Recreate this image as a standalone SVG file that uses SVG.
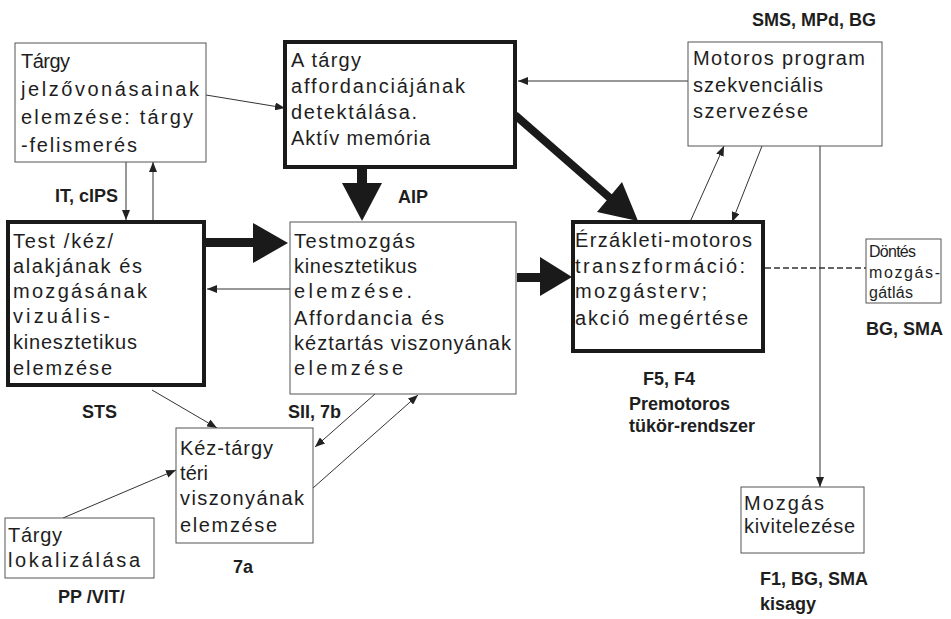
<svg xmlns="http://www.w3.org/2000/svg" width="951" height="619" viewBox="0 0 951 619">
<style>
.thin{fill:#fff;stroke:#555;stroke-width:1}
.thick{fill:#fff;stroke:#1a1a1a;stroke-width:4}
.t{font-family:"Liberation Sans",Arial,sans-serif;font-size:20px;fill:#1e1e1e}
.s{font-family:"Liberation Sans",Arial,sans-serif;font-size:16px;fill:#1e1e1e}
.b{font-family:"Liberation Sans",Arial,sans-serif;font-size:18px;font-weight:bold;fill:#1e1e1e}
.c{stroke:#333;stroke-width:1;fill:none;marker-end:url(#ah)}
.d{stroke:#333;stroke-width:1.3;fill:none;stroke-dasharray:6 3}
.big{fill:#1a1a1a}
.sh{stroke:#1a1a1a;fill:none}
</style>
<defs>
<marker id="ah" markerUnits="userSpaceOnUse" markerWidth="10" markerHeight="8" refX="10" refY="4" orient="auto">
<path d="M0,0 L10,4 L0,8 z" fill="#222"/>
</marker>
</defs>
<rect width="951" height="619" fill="#fff"/>

<g id="connectors">
<line class="c" x1="206" y1="95" x2="285" y2="108"/>
<line class="c" x1="688" y1="81" x2="518" y2="81"/>
<line class="c" x1="690" y1="222" x2="724" y2="146"/>
<line class="c" x1="762" y1="146" x2="732" y2="222"/>
<line class="c" x1="820" y1="146" x2="820" y2="487"/>
<line class="d" x1="765" y1="268" x2="866" y2="268"/>
<line class="c" x1="126" y1="162" x2="126" y2="220"/>
<line class="c" x1="153" y1="220" x2="153" y2="162"/>
<line class="c" x1="290" y1="289" x2="207" y2="289"/>
<line class="c" x1="152" y1="390" x2="217" y2="428"/>
<line class="c" x1="375" y1="394" x2="315" y2="447"/>
<line class="c" x1="313" y1="488" x2="418" y2="395"/>
<line class="c" x1="63" y1="518" x2="176" y2="470"/>
<line class="sh" x1="362" y1="169" x2="362" y2="185" stroke-width="10"/>
<polygon class="big" points="342,183 382,183 362,221"/>
<line class="sh" x1="206" y1="242.5" x2="254" y2="242.5" stroke-width="9"/>
<polygon class="big" points="253,223 288,243 253,263"/>
<line class="sh" x1="517" y1="277.5" x2="541" y2="277.5" stroke-width="9"/>
<polygon class="big" points="540,257 572,277 540,296"/>
<line class="sh" x1="515" y1="115" x2="610" y2="198" stroke-width="8"/>
<polygon class="big" points="638,221 597,212 622,182"/>
</g>

<g id="n-targy-jelzo">
<rect class="thin" x="15" y="43" width="191" height="119"/>
<text class="t" x="21" y="68" textLength="49" lengthAdjust="spacing">Tárgy</text>
<text class="t" x="21" y="96" textLength="178" lengthAdjust="spacing">jelzővonásainak</text>
<text class="t" x="21" y="124" textLength="172" lengthAdjust="spacing">elemzése: tárgy</text>
<text class="t" x="21" y="152" textLength="116" lengthAdjust="spacing">-felismerés</text>
</g>

<g id="n-affordancia">
<rect class="thick" x="285" y="42" width="230" height="125"/>
<text class="t" x="291" y="67" textLength="70" lengthAdjust="spacing">A tárgy</text>
<text class="t" x="291" y="93" textLength="174" lengthAdjust="spacing">affordanciájának</text>
<text class="t" x="291" y="119" textLength="126" lengthAdjust="spacing">detektálása.</text>
<text class="t" x="291" y="145" textLength="139" lengthAdjust="spacing">Aktív memória</text>
</g>

<g id="n-motoros-program">
<rect class="thin" x="688" y="42" width="194" height="104"/>
<text class="t" x="693" y="65" textLength="172" lengthAdjust="spacing">Motoros program</text>
<text class="t" x="693" y="92" textLength="130" lengthAdjust="spacing">szekvenciális</text>
<text class="t" x="693" y="118" textLength="115" lengthAdjust="spacing">szervezése</text>
</g>

<g id="n-test-kez">
<rect class="thick" x="8" y="222" width="196" height="163"/>
<text class="t" x="13" y="248" textLength="100" lengthAdjust="spacing">Test /kéz/</text>
<text class="t" x="13" y="273" textLength="129" lengthAdjust="spacing">alakjának és</text>
<text class="t" x="13" y="298" textLength="134" lengthAdjust="spacing">mozgásának</text>
<text class="t" x="13" y="323" textLength="97" lengthAdjust="spacing">vizuális-</text>
<text class="t" x="13" y="349" textLength="124" lengthAdjust="spacing">kinesztetikus</text>
<text class="t" x="13" y="375" textLength="99" lengthAdjust="spacing">elemzése</text>
</g>

<g id="n-testmozgas">
<rect class="thin" x="290" y="222" width="226" height="172"/>
<text class="t" x="294" y="248" textLength="121" lengthAdjust="spacing">Testmozgás</text>
<text class="t" x="294" y="273" textLength="123" lengthAdjust="spacing">kinesztetikus</text>
<text class="t" x="294" y="298" textLength="118" lengthAdjust="spacing">elemzése.</text>
<text class="t" x="294" y="325" textLength="150" lengthAdjust="spacing">Affordancia és</text>
<text class="t" x="294" y="350" textLength="217" lengthAdjust="spacing">kéztartás viszonyának</text>
<text class="t" x="294" y="375" textLength="109" lengthAdjust="spacing">elemzése</text>
</g>

<g id="n-erzekleti">
<rect class="thick" x="573" y="222" width="190" height="129"/>
<text class="t" x="575" y="247" textLength="177" lengthAdjust="spacing">Érzákleti-motoros</text>
<text class="t" x="575" y="273" textLength="170" lengthAdjust="spacing">transzformáció:</text>
<text class="t" x="575" y="298" textLength="132" lengthAdjust="spacing">mozgásterv;</text>
<text class="t" x="575" y="325" textLength="173" lengthAdjust="spacing">akció megértése</text>
</g>

<g id="n-dontes">
<rect class="thin" x="866" y="239" width="75" height="64"/>
<text class="s" x="869" y="257" textLength="47" lengthAdjust="spacing">Döntés</text>
<text class="s" x="869" y="278" textLength="71" lengthAdjust="spacing">mozgás-</text>
<text class="s" x="869" y="298" textLength="44" lengthAdjust="spacing">gátlás</text>
</g>

<g id="n-kez-targy">
<rect class="thin" x="176" y="428" width="137" height="115"/>
<text class="t" x="180" y="455" textLength="93" lengthAdjust="spacing">Kéz-tárgy</text>
<text class="t" x="180" y="480" textLength="28" lengthAdjust="spacing">téri</text>
<text class="t" x="180" y="505" textLength="124" lengthAdjust="spacing">viszonyának</text>
<text class="t" x="180" y="532" textLength="97" lengthAdjust="spacing">elemzése</text>
</g>

<g id="n-targy-lok">
<rect class="thin" x="5" y="518" width="149" height="60"/>
<text class="t" x="8" y="542" textLength="54" lengthAdjust="spacing">Tárgy</text>
<text class="t" x="8" y="567" textLength="132" lengthAdjust="spacing">lokalizálása</text>
</g>

<g id="n-mozgas">
<rect class="thin" x="741" y="487" width="123" height="66"/>
<text class="t" x="744" y="510" textLength="80" lengthAdjust="spacing">Mozgás</text>
<text class="t" x="744" y="533" textLength="111" lengthAdjust="spacing">kivitelezése</text>
</g>

<g id="labels">
<text class="b" x="752" y="26">SMS, MPd, BG</text>
<text class="b" x="55" y="202">IT, cIPS</text>
<text class="b" x="398" y="203">AIP</text>
<text class="b" x="82" y="418">STS</text>
<text class="b" x="288" y="418">SII, 7b</text>
<text class="b" x="643" y="385">F5, F4</text>
<text class="b" x="629" y="410">Premotoros</text>
<text class="b" x="629" y="432">tükör-rendszer</text>
<text class="b" x="866" y="335">BG, SMA</text>
<text class="b" x="233" y="573">7a</text>
<text class="b" x="58" y="603">PP /VIT/</text>
<text class="b" x="760" y="585">F1, BG, SMA</text>
<text class="b" x="760" y="610">kisagy</text>
</g>
</svg>
